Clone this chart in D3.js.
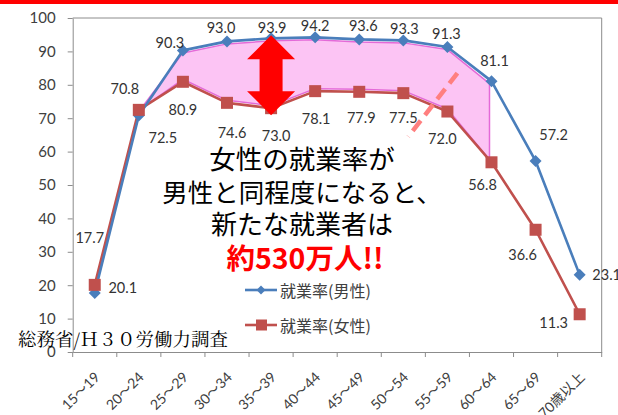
<!DOCTYPE html>
<html>
<head>
<meta charset="utf-8">
<script src="https://cdn.jsdelivr.net/npm/d3@7/dist/d3.min.js"></script>
<style>
  html, body { margin: 0; padding: 0; background: #ffffff; }
  svg { display: block; }
</style>
</head>
<body>
<svg id="chart" width="618" height="415"></svg>
<script>
// Employment rate by age group (%), 2018 Labour Force Survey
const ageGroups = ["15～19", "20～24", "25～29", "30～34", "35～39", "40～44",
                   "45～49", "50～54", "55～59", "60～64", "65～69", "70歳以上"];
const maleRate   = [17.7, 70.8, 90.3, 93.0, 93.9, 94.2, 93.6, 93.3, 91.3, 81.1, 57.2, 23.1];
const femaleRate = [20.1, 72.5, 80.9, 74.6, 73.0, 78.1, 77.9, 77.5, 72.0, 56.8, 36.6, 11.3];
const yTicks = [0, 10, 20, 30, 40, 50, 60, 70, 80, 90, 100];
const seriesNames = ["就業率(男性)", "就業率(女性)"];

// value-label nudges (dx, dy in px) relative to each point
const maleLabelNudge = [[-5,-55],[-14,-27],[-13,-8],[-6,-14],[1,-11],[0,-12],[4,-14],[1,-12],[-1,-14],[3,-21],[18,-26],[27,0]];
const femaleLabelNudge = [[28,3],[24,28],[0,28],[5,30],[5,27],[1,27],[2,26],[0,24],[-5,27],[-9,22],[-13,25],[-26,8]];

const BLUE = "#4a7ebb", RED = "#c0504d", AXIS = "#8c8c8c", TEXT = "#404040";

const svg = d3.select("#chart");

// red banner strip at the top
svg.append("rect").attr("x", 0).attr("y", 0).attr("width", 618).attr("height", 4).attr("fill", "#ff0000");

const x = d3.scaleBand().domain(ageGroups).range([72.7, 601.7]);
const y = d3.scaleLinear().domain([0, 100]).range([352, 18]);
const cx = d => x(d) + x.bandwidth() / 2;

// plot frame: top and right edges
svg.append("line").attr("x1", x.range()[0]).attr("x2", x.range()[1])
  .attr("y1", y(100)).attr("y2", y(100)).attr("stroke", AXIS).attr("stroke-width", 1);
svg.append("line").attr("x1", x.range()[1]).attr("x2", x.range()[1])
  .attr("y1", y(100)).attr("y2", y(0)).attr("stroke", AXIS).attr("stroke-width", 1);

// y axis
const yAxis = svg.append("g").attr("transform", `translate(${x.range()[0]},0)`)
  .call(d3.axisLeft(y).tickValues(yTicks).tickSize(5).tickSizeOuter(0).tickPadding(12));
yAxis.select(".domain").attr("stroke", AXIS);
yAxis.selectAll(".tick line").attr("stroke", AXIS);
yAxis.selectAll(".tick text").attr("fill", TEXT)
  .style("font-family", "Lato, 'Liberation Sans', sans-serif").style("font-size", "15px");

// x axis: labels rotated, ticks on band boundaries
const xAxis = svg.append("g").attr("transform", `translate(0,${y(0)})`)
  .call(d3.axisBottom(x).tickSize(0).tickSizeOuter(0));
xAxis.select(".domain").attr("stroke", AXIS);
xAxis.selectAll(".tick text")
  .attr("fill", TEXT)
  .style("font-family", "Lato, 'Noto Sans CJK JP', sans-serif").style("font-size", "14px")
  .attr("text-anchor", "end")
  .attr("dy", 0).attr("y", 0)
  .attr("transform", "translate(6,26) rotate(-45)");
const boundaries = ageGroups.map(d => x(d)).concat([x.range()[1]]);
svg.append("g").selectAll("line").data(boundaries).join("line")
  .attr("x1", d => d).attr("x2", d => d)
  .attr("y1", y(0)).attr("y2", y(0) + 5)
  .attr("stroke", AXIS);

// shaded gap between the two curves (20～24 through 60～64)
const gapIdx = d3.range(1, 10);
const gapPts = [];
gapPts.push([cx(ageGroups[1]) + 2, y(femaleRate[1]) - 1]);
gapIdx.slice(1).forEach(i => gapPts.push([cx(ageGroups[i]) - (i === 9 ? 2 : 0), y(maleRate[i]) + 2.5]));
gapIdx.slice(1).reverse().forEach(i => gapPts.push([cx(ageGroups[i]) - (i === 9 ? 2 : 0), y(femaleRate[i]) - 2.5]));
svg.append("path")
  .attr("d", d3.line()(gapPts) + "Z")
  .attr("fill", "#fcc4f4")
  .attr("stroke", "#e46ad8")
  .attr("stroke-width", 1.5)
  .attr("stroke-linejoin", "round");

// series lines
const lineGen = d3.line().x((d, i) => cx(ageGroups[i])).y(d => y(d));
svg.append("path").attr("d", lineGen(femaleRate))
  .attr("fill", "none").attr("stroke", RED).attr("stroke-width", 2.6).attr("stroke-linejoin", "round");
svg.append("path").attr("d", lineGen(maleRate))
  .attr("fill", "none").attr("stroke", BLUE).attr("stroke-width", 2.6).attr("stroke-linejoin", "round");

// markers
const diamond = s => `M0,${-s}L${s},0L0,${s}L${-s},0Z`;
svg.append("g").selectAll("path").data(maleRate).join("path")
  .attr("d", diamond(6))
  .attr("transform", (d, i) => `translate(${cx(ageGroups[i])},${y(d)})`)
  .attr("fill", BLUE);
svg.append("g").selectAll("rect").data(femaleRate).join("rect")
  .attr("x", (d, i) => cx(ageGroups[i]) - 6).attr("y", d => y(d) - 6)
  .attr("width", 12).attr("height", 12)
  .attr("fill", RED);

// value labels
const labelFont = "Lato, 'Liberation Sans', sans-serif";
function valueLabels(values, nudge) {
  svg.append("g").selectAll("text").data(values).join("text")
    .attr("x", (d, i) => cx(ageGroups[i]) + nudge[i][0])
    .attr("y", (d, i) => y(d) + nudge[i][1])
    .attr("text-anchor", "middle").attr("dominant-baseline", "central")
    .style("font-family", labelFont).style("font-size", "14.5px")
    .attr("fill", "#333333")
    .text(d => d.toFixed(1));
}
valueLabels(maleRate, maleLabelNudge);
valueLabels(femaleRate, femaleLabelNudge);

// double-headed arrow at 35～39 spanning the gap
{
  const ax = cx(ageGroups[4]);
  const top = y(maleRate[4]) - 3, bot = y(femaleRate[4]) + 7;
  const head = 24, hw = 24, sw = 11.5;
  const pts = [
    [ax, top], [ax + hw, top + head], [ax + sw, top + head], [ax + sw, bot - head],
    [ax + hw, bot - head], [ax, bot], [ax - hw, bot - head], [ax - sw, bot - head],
    [ax - sw, top + head], [ax - hw, top + head]
  ];
  svg.append("path").attr("d", d3.line()(pts) + "Z").attr("fill", "#ff0000");
}

// dashed guide across the gap near 55～59
svg.append("line")
  .attr("x1", cx(ageGroups[8]) + 10).attr("y1", y(83.5))
  .attr("x2", cx(ageGroups[7]) + 5).attr("y2", y(64.5))
  .attr("stroke", "#ff7f7f").attr("stroke-width", 4.5)
  .attr("stroke-dasharray", "13,7");

// legend
const legend = svg.append("g");
const legendRows = [
  { name: seriesNames[0], color: BLUE, y: 290, marker: "diamond" },
  { name: seriesNames[1], color: RED, y: 325, marker: "square" }
];
legendRows.forEach(r => {
  legend.append("line").attr("x1", 245).attr("x2", 277).attr("y1", r.y).attr("y2", r.y)
    .attr("stroke", r.color).attr("stroke-width", 2.6);
  if (r.marker === "diamond") {
    legend.append("path").attr("d", diamond(4.5)).attr("transform", `translate(261,${r.y})`).attr("fill", r.color);
  } else {
    legend.append("rect").attr("x", 256).attr("y", r.y - 5.5).attr("width", 11).attr("height", 11).attr("fill", r.color);
  }
  legend.append("text").attr("x", 280).attr("y", r.y).attr("dominant-baseline", "central")
    .style("font-family", "'Noto Sans CJK JP', sans-serif").style("font-size", "16px")
    .attr("fill", TEXT).text(r.name);
});

// callout text
const callout = svg.append("g").attr("text-anchor", "middle")
  .style("font-family", "'Noto Sans CJK JP', sans-serif");
[["女性の就業率が", 157, 26.5], ["男性と同程度になると、", 190, 25.5], ["新たな就業者は", 222, 26]].forEach(([t, ty, fs]) => {
  callout.append("text").attr("x", 302).attr("y", ty).attr("dominant-baseline", "central")
    .style("font-size", fs + "px").attr("fill", "#000000").text(t);
});
callout.append("text").attr("x", 305).attr("y", 256).attr("dominant-baseline", "central")
  .style("font-size", "28.5px").style("font-weight", "bold").attr("fill", "#ff0000").text("約530万人!!");

// source note
svg.append("text").attr("x", 18).attr("y", 346)
  .style("font-family", "'Noto Serif CJK JP', 'Liberation Serif', serif").style("font-size", "18.5px")
  .attr("fill", "#000000").text("総務省/Ｈ３０労働力調査");
</script>
</body>
</html>
